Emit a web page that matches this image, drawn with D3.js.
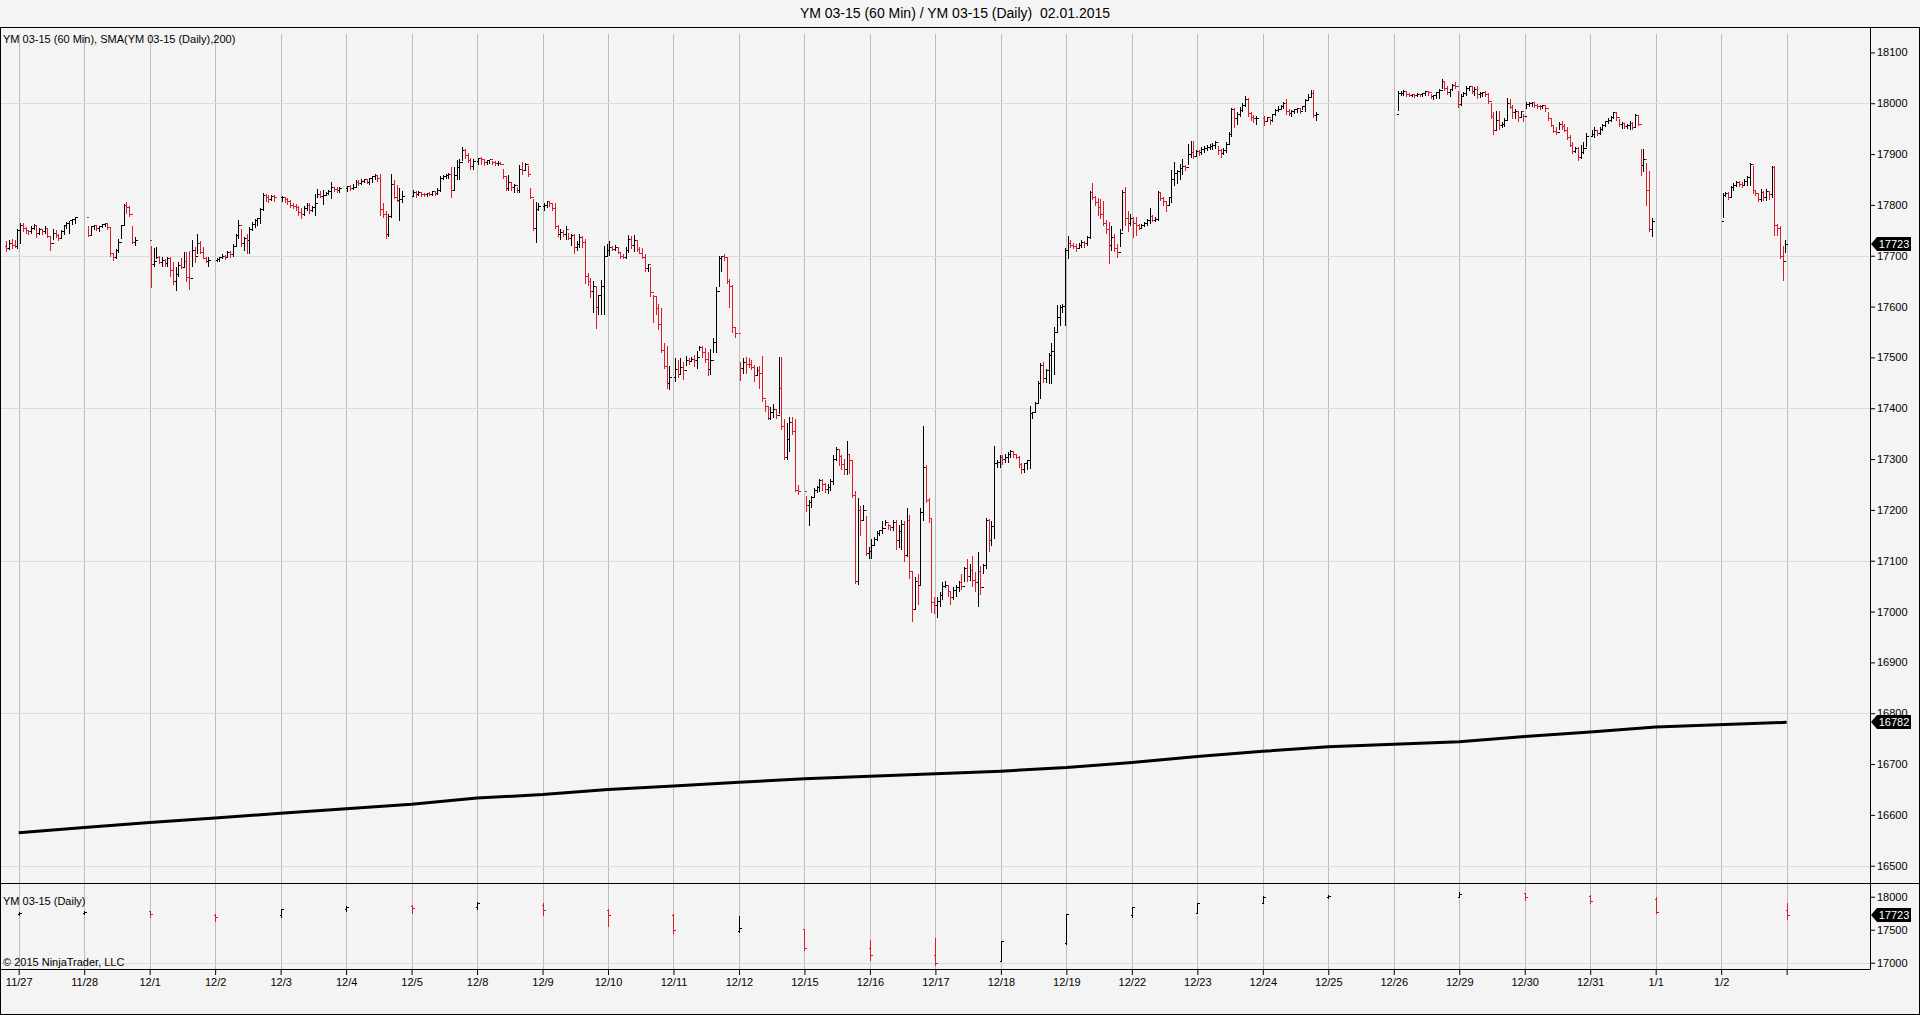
<!DOCTYPE html>
<html>
<head>
<meta charset="utf-8">
<script src="https://cdn.jsdelivr.net/npm/d3@7"></script>
<style>
  html, body { margin: 0; padding: 0; background: #f4f4f4; overflow: hidden; }
  svg { display: block; font-family: Arial, "Liberation Sans", sans-serif; }
  .title { white-space: pre; }
</style>
</head>
<body>
<script>
// day labels on the time axis (slot 27 is the unlabeled last gridline)
var dayLabels = ['11/27','11/28','12/1','12/2','12/3','12/4','12/5','12/8','12/9','12/10','12/11','12/12',
  '12/15','12/16','12/17','12/18','12/19','12/22','12/23','12/24','12/25','12/26','12/29','12/30','12/31','1/1','1/2'];

var priceTicks = [16500,16600,16700,16800,16900,17000,17100,17200,17300,17400,17500,17600,17700,17800,17900,18000,18100];
var gridPrices = [16500,16800,17100,17400,17700,18000];
var dailyTicks = [17000,17500,18000];
var dailyGrid = [17000];

// hourly bars, one array per session: [high, low, close]
var s1126 = [[17730,17710,17715],[17732,17713,17725],[17735,17716,17722],[17733,17718,17720],[17755,17715,17750]];
var s1127 = [[17767,17725,17760],[17767,17748,17755],[17758,17745,17750],[17752,17742,17748],[17760,17745,17755],
  [17765,17752,17760],[17762,17737,17745],[17756,17742,17752],[17754,17742,17748],[17760,17745,17755],[17757,17736,17738],
  [17740,17712,17725],[17755,17733,17745],[17752,17736,17740],[17745,17730,17735],[17752,17735,17748],[17762,17742,17760],
  [17768,17755,17765],[17770,17745,17770],[17774,17762,17772],[17778,17765,17776]];
var s1128 = [[17761,17738,17740],[17760,17740,17758],[17762,17752,17760],[17760,17750,17755],[17760,17748,17758],
  [17764,17756,17762],[17766,17758,17765],[17766,17752,17757],[17757,17700,17705],[17708,17692,17698],[17715,17695,17712],
  [17735,17708,17728],[17762,17735,17760],[17803,17760,17800],[17808,17785,17795],[17800,17778,17782],[17760,17725,17728],
  [17738,17722,17730]];
var s1201 = [[17722,17638,17684],[17718,17680,17690],[17720,17695,17698],[17702,17686,17688],[17700,17680,17692],
  [17695,17680,17686],[17700,17680,17695],[17700,17660,17672],[17690,17645,17650],[17680,17632,17665],[17690,17660,17682],
  [17698,17675,17678],[17710,17680,17690],[17710,17650,17658],[17712,17635,17656],[17732,17680,17712],[17720,17688,17700],
  [17745,17705,17725],[17730,17705,17708],[17720,17695,17696],[17700,17688,17690],[17700,17680,17692]];
var s1202 = [[17698,17690,17694],[17700,17690,17698],[17705,17695,17700],[17704,17694,17698],[17712,17700,17708],
  [17712,17698,17704],[17725,17700,17720],[17745,17720,17740],[17773,17735,17760],[17755,17720,17725],[17738,17712,17735],
  [17745,17705,17730],[17758,17705,17752],[17768,17750,17762],[17775,17757,17770],[17777,17760,17774],[17795,17765,17792],
  [17825,17790,17820],[17823,17808,17815],[17822,17805,17812],[17822,17810,17818],[17822,17808,17815]];
var s1203 = [[17820,17808,17815],[17818,17806,17812],[17816,17802,17808],[17812,17796,17800],[17805,17794,17798],
  [17804,17790,17795],[17800,17780,17786],[17795,17775,17782],[17800,17780,17794],[17805,17790,17800],[17806,17784,17790],
  [17800,17788,17796],[17823,17780,17804],[17833,17815,17822],[17830,17815,17818],[17832,17802,17820],[17828,17820,17824],
  [17832,17822,17828],[17848,17814,17835],[17837,17828,17832],[17838,17826,17829],[17838,17825,17834]];
var s1204 = [[17840,17828,17838],[17842,17830,17834],[17844,17832,17836],[17850,17836,17846],[17850,17840,17844],
  [17852,17842,17848],[17853,17845,17850],[17852,17844,17846],[17855,17842,17852],[17858,17845,17856],[17862,17850,17858],
  [17860,17848,17852],[17863,17780,17792],[17805,17776,17782],[17790,17735,17742],[17784,17738,17778],[17863,17777,17842],
  [17850,17813,17815],[17842,17808,17810],[17836,17771,17812],[17830,17805,17818]];
var s1205 = [[17832,17818,17825],[17830,17815,17822],[17830,17820,17826],[17828,17818,17822],[17826,17818,17821],
  [17826,17818,17823],[17828,17819,17822],[17830,17820,17827],[17828,17820,17824],[17835,17822,17830],[17858,17828,17852],
  [17860,17850,17856],[17862,17852,17858],[17864,17852,17861],[17877,17815,17830],[17877,17830,17858],[17890,17850,17875],
  [17893,17850,17885],[17915,17889,17908],[17912,17892,17898],[17905,17885,17888],[17895,17870,17876],[17892,17870,17886]];
var s1208 = [[17895,17880,17892],[17896,17880,17890],[17890,17878,17884],[17890,17880,17888],[17891,17882,17890],
  [17889,17881,17884],[17888,17879,17882],[17888,17878,17883],[17887,17880,17881],[17872,17852,17856],[17858,17830,17834],
  [17860,17830,17846],[17848,17830,17836],[17843,17825,17840],[17838,17825,17829],[17880,17825,17870],[17887,17860,17868],
  [17885,17870,17880],[17879,17856,17860],[17836,17813,17815],[17813,17751,17755],[17807,17728,17792],[17805,17790,17798]];
var s1209 = [[17805,17790,17800],[17810,17795,17807],[17810,17798,17803],[17806,17790,17794],[17805,17755,17758],
  [17762,17738,17742],[17755,17733,17746],[17752,17738,17742],[17760,17733,17752],[17746,17732,17735],[17745,17722,17740],
  [17745,17705,17718],[17730,17712,17724],[17745,17718,17736],[17740,17718,17728],[17735,17646,17660],[17668,17642,17650],
  [17658,17619,17630],[17652,17590,17640],[17640,17558,17600],[17625,17585,17622],[17655,17585,17640],[17722,17585,17700],
  [17725,17700,17712]];
var s1210 = [[17730,17702,17718],[17722,17712,17714],[17723,17712,17718],[17720,17705,17708],[17708,17695,17700],
  [17705,17695,17698],[17720,17695,17712],[17742,17708,17732],[17740,17715,17722],[17742,17710,17730],[17730,17710,17714],
  [17720,17705,17706],[17718,17695,17698],[17705,17670,17676],[17686,17670,17684],[17680,17620,17628],[17625,17570,17620],
  [17622,17585,17598],[17608,17555,17565],[17600,17510,17515],[17530,17480,17484],[17525,17440,17450],[17485,17437,17462]];
var s1211 = [[17500,17453,17478],[17496,17462,17468],[17500,17467,17482],[17493,17458,17475],[17505,17485,17494],
  [17500,17487,17492],[17503,17492,17496],[17507,17483,17494],[17515,17480,17500],[17525,17515,17520],[17525,17500,17510],
  [17520,17491,17496],[17512,17466,17478],[17518,17468,17494],[17540,17510,17530],[17640,17510,17630],[17701,17640,17695],
  [17702,17669,17700],[17705,17692,17698],[17697,17646,17650],[17656,17600,17640],[17645,17550,17560],[17560,17540,17548]];
var s1212 = [[17492,17456,17480],[17500,17470,17490],[17503,17470,17488],[17500,17482,17487],[17496,17478,17482],
  [17488,17453,17466],[17484,17465,17475],[17485,17440,17470],[17505,17415,17420],[17418,17395,17405],[17405,17378,17380],
  [17405,17378,17392],[17410,17382,17398],[17400,17380,17386],[17502,17390,17440],[17502,17360,17365],[17380,17300,17305],
  [17372,17300,17340],[17385,17315,17372],[17385,17350,17355],[17380,17238,17240],[17250,17232,17238]];
var s1215 = [[17230,17198,17210],[17222,17170,17216],[17230,17205,17225],[17245,17228,17240],[17248,17235,17245],
  [17262,17238,17258],[17262,17240,17250],[17255,17236,17242],[17252,17233,17246],[17262,17240,17256],[17310,17250,17300],
  [17326,17298,17320],[17320,17288,17306],[17310,17280,17290],[17302,17270,17280],[17338,17270,17310],[17310,17272,17298],
  [17300,17225,17230],[17240,17056,17060],[17225,17054,17200],[17210,17150,17180],[17212,17180,17200],[17190,17111,17115],
  [17128,17105,17120]];
var s1216 = [[17145,17105,17130],[17148,17132,17142],[17160,17141,17155],[17162,17150,17160],[17180,17155,17165],
  [17182,17170,17176],[17175,17163,17170],[17172,17160,17166],[17182,17160,17176],[17182,17124,17140],[17172,17127,17158],
  [17182,17124,17172],[17180,17100,17112],[17205,17110,17180],[17192,17066,17080],[17080,16981,17005],[17070,17005,17060],
  [17076,17014,17052],[17205,17055,17195],[17367,17180,17285],[17290,17215,17220],[17225,17176,17185],[17185,17000,17018],
  [17030,16998,17012]];
var s1217 = [[17030,16990,17020],[17040,17010,17032],[17060,17025,17050],[17062,17048,17052],[17055,17030,17040],
  [17042,17015,17028],[17050,17025,17042],[17055,17030,17048],[17062,17040,17058],[17075,17045,17050],[17090,17060,17085],
  [17105,17060,17070],[17095,17062,17082],[17112,17050,17062],[17080,17040,17058],[17120,17010,17080],[17092,17035,17048],
  [17095,17076,17092],[17187,17085,17180],[17185,17120,17140],[17180,17130,17168],[17328,17144,17292],[17300,17285,17295],
  [17310,17285,17304]];
var s1218 = [[17310,17290,17300],[17312,17295,17305],[17316,17295,17310],[17320,17305,17315],[17318,17305,17310],
  [17312,17302,17305],[17308,17285,17290],[17295,17273,17280],[17295,17275,17292],[17300,17280,17298],[17407,17282,17390],
  [17395,17380,17392],[17415,17392,17410],[17455,17410,17450],[17490,17420,17485],[17492,17452,17460],[17480,17452,17476],
  [17510,17450,17505],[17530,17450,17512],[17562,17468,17550],[17606,17550,17580],[17606,17564,17600],[17608,17590,17602],
  [17718,17564,17712]];
var s1219 = [[17741,17695,17725],[17732,17718,17722],[17728,17716,17720],[17725,17710,17715],[17728,17715,17722],
  [17732,17718,17727],[17730,17718,17725],[17740,17722,17736],[17830,17735,17825],[17846,17812,17815],[17820,17800,17805],
  [17815,17780,17795],[17814,17775,17782],[17810,17760,17765],[17772,17745,17752],[17768,17685,17722],[17760,17712,17736],
  [17745,17710,17716],[17725,17698,17708],[17755,17720,17745],[17832,17750,17825],[17837,17760,17775],[17790,17748,17765],
  [17785,17760,17775]];
var s1222 = [[17778,17736,17765],[17778,17740,17760],[17765,17752,17755],[17765,17754,17760],[17768,17758,17764],
  [17775,17760,17770],[17795,17765,17778],[17782,17768,17770],[17778,17768,17772],[17830,17770,17826],[17828,17810,17814],
  [17818,17800,17808],[17810,17788,17800],[17818,17800,17815],[17870,17805,17850],[17886,17840,17862],[17870,17843,17866],
  [17882,17850,17872],[17893,17860,17876],[17880,17868,17874],[17922,17880,17900],[17928,17895,17905],[17928,17893,17896],
  [17910,17898,17906]];
var s1223 = [[17910,17898,17904],[17915,17900,17910],[17918,17905,17912],[17920,17908,17914],[17922,17910,17916],
  [17924,17910,17918],[17928,17912,17924],[17918,17900,17908],[17912,17895,17902],[17914,17900,17908],[17925,17905,17920],
  [17946,17920,17940],[17993,17935,17988],[17993,17954,17970],[17985,17960,17978],[17994,17975,17986],[18002,17985,17996],
  [18016,17995,18008],[18013,17974,17980],[17985,17967,17972],[17978,17964,17970],[17976,17960,17970]];
var s1224 = [[17976,17958,17966],[17975,17965,17972],[17970,17960,17968],[17980,17965,17978],[17990,17976,17986],
  [17996,17985,17988],[17998,17988,17995],[18004,17990,18000],[18010,17978,17984],[17990,17976,17980],[17988,17975,17984],
  [17990,17980,17988],[17992,17982,17990],[17990,17980,17984],[17996,17988,17994],[18010,17985,18006],[18020,18006,18012],
  [18028,18012,18020],[18028,17972,17976],[17985,17968,17978]];
var s1226 = [[18026,17987,18020],[18026,18016,18021],[18028,18016,18024],[18026,18015,18019],[18022,18015,18017],
  [18020,18014,18018],[18020,18012,18016],[18022,18014,18019],[18020,18014,18018],[18022,18014,18020],[18027,18017,18024],
  [18026,18016,18022],[18020,18010,18014],[18018,18008,18016],[18024,18010,18022],[18030,18010,18027],[18049,18030,18044],
  [18046,18026,18030],[18035,18018,18022],[18030,18015,18028],[18040,18026,18036],[18043,18030,18034],[18026,17993,17998]];
var s1229 = [[18020,17997,18015],[18024,18014,18020],[18036,18016,18030],[18036,18026,18033],[18036,18020,18025],
  [18033,18016,18028],[18036,18010,18018],[18025,18013,18020],[18024,18015,18022],[18026,18015,18018],[18022,18000,18004],
  [18003,17970,17975],[17984,17940,17948],[17987,17950,17968],[17987,17950,17958],[17966,17954,17960],[17972,17955,17968],
  [18013,17967,18000],[18010,17990,17993],[17998,17970,17982],[17990,17970,17984],[17985,17965,17972],[17986,17975,17984],
  [17980,17965,17974]];
var s1230 = [[18005,17990,17998],[18004,17994,18000],[18005,17995,18002],[18002,17992,17996],[18000,17990,17995],
  [17998,17988,17994],[17999,17990,17996],[17997,17985,17990],[17985,17967,17970],[17970,17955,17958],[17960,17943,17946],
  [17955,17940,17944],[17966,17950,17960],[17968,17950,17955],[17962,17945,17948],[17955,17930,17934],[17940,17915,17918],
  [17925,17902,17906],[17916,17905,17912],[17915,17889,17894],[17920,17892,17904],[17925,17902,17912],[17944,17915,17935]];
var s1231 = [[17950,17935,17940],[17955,17934,17948],[17950,17938,17942],[17955,17940,17950],[17962,17948,17958],
  [17968,17955,17965],[17972,17962,17968],[17976,17966,17972],[17984,17970,17982],[17983,17968,17972],[17970,17955,17960],
  [17965,17952,17962],[17963,17952,17955],[17962,17952,17958],[17968,17950,17962],[17966,17950,17954],[17980,17954,17976],
  [17977,17958,17960],[17912,17859,17878],[17912,17866,17890],[17885,17800,17830],[17869,17748,17752],[17777,17738,17768]];
var s0102 = [[17826,17777,17820],[17828,17818,17824],[17828,17812,17816],[17840,17818,17836],[17846,17830,17840],
  [17849,17838,17845],[17849,17838,17842],[17848,17836,17840],[17852,17840,17848],[17859,17840,17855],[17885,17840,17880],
  [17878,17823,17830],[17832,17820,17824],[17826,17807,17812],[17833,17807,17826],[17830,17809,17816],[17833,17810,17828],
  [17830,17812,17822],[17879,17815,17875],[17879,17741,17760],[17764,17741,17755],[17761,17695,17700],[17722,17653,17690],
  [17732,17708,17723]];

var sessionBars = [s1126, s1127, s1128, s1201, s1202, s1203, s1204, s1205, s1208, s1209, s1210, s1211, s1212,
  s1215, s1216, s1217, s1218, s1219, s1222, s1223, s1224, s1226, s1229, s1230, s1231, s0102];
var sessionSlot = [-1, 0, 1, 2, 3, 4, 5, 6, 7, 8, 9, 10, 11, 12, 13, 14, 15, 16, 17, 18, 19, 21, 22, 23, 24, 26];
var sessionStartHour = [19, 0, 1, 0, 0, 0, 0, 0, 0, 0, 0, 0, 0, 0, 0, 0, 0, 0, 0, 0, 0, 1, 0, 0, 0, 0];
var firstOpen = 17720;

// daily series (bottom panel) and the 200-day SMA
var dailySlot  = [0,1,2,3,4,5,6,7,8,9,10,11,12,13,14,15,16,17,18,19,20,22,23,24,25,27];
var dailyOpen  = [17735,17750,17780,17720,17720,17810,17855,17840,17880,17800,17720,17475,17510,17230,17120,17030,17300,17720,17760,17905,17990,18000,18050,18010,17960,17800];
var dailyHigh  = [17790,17800,17795,17760,17830,17870,17890,17940,17915,17830,17760,17724,17523,17357,17387,17347,17750,17860,17925,18025,18045,18080,18065,18040,18005,17915];
var dailyLow   = [17725,17745,17700,17635,17700,17780,17750,17820,17730,17560,17450,17472,17196,17045,16970,17020,17282,17690,17750,17900,17980,17995,17945,17905,17750,17660];
var dailyClose = [17760,17775,17740,17700,17820,17840,17830,17900,17800,17720,17490,17523,17230,17120,17000,17330,17740,17850,17910,17990,18010,18040,17990,17940,17770,17723];
var smaValues  = [16565,16575,16585,16594,16603,16612,16621,16633,16640,16650,16657,16664,16671,16676,16681,16686,16693,16703,16715,16725,16734,16744,16754,16763,16773,16782];

var width = 1920, height = 1015;
var plotRight = 1870, mainTop = 27, mainBottom = 883, axisY = 969;
var upColor = "#000000", downColor = "#d81e2c";

var x = d3.scaleLinear().domain([-0.2856, 28.273]).range([0, plotRight]);
var yMain = d3.scaleLinear().domain([16466, 18150]).range([mainBottom, mainTop]);
var yDaily = d3.scaleLinear().domain([16905, 18208]).range([axisY, mainBottom]);

var svg = d3.select("body").append("svg")
  .attr("width", width)
  .attr("height", height);

svg.append("rect").attr("width", width).attr("height", height).attr("fill", "#f4f4f4");

// title
svg.append("text")
  .attr("class", "title")
  .attr("x", 955).attr("y", 18)
  .attr("text-anchor", "middle")
  .attr("font-size", "14px")
  .attr("fill", "#000")
  .text("YM 03-15 (60 Min) / YM 03-15 (Daily)  02.01.2015");

function px(v) { return Math.round(v) + 0.5; }

// grid
var slots = d3.range(0, 28);
svg.append("g").selectAll("line").data(slots).enter().append("line")
  .attr("x1", function (d) { return px(x(d)); })
  .attr("x2", function (d) { return px(x(d)); })
  .attr("y1", 34).attr("y2", axisY)
  .attr("stroke", "#bdbdbd").attr("stroke-width", 1);

svg.append("g").selectAll("line").data(gridPrices).enter().append("line")
  .attr("x1", 0).attr("x2", plotRight)
  .attr("y1", function (d) { return px(yMain(d)); })
  .attr("y2", function (d) { return px(yMain(d)); })
  .attr("stroke", "#dcdcdc");

svg.append("g").selectAll("line").data(dailyGrid).enter().append("line")
  .attr("x1", 0).attr("x2", plotRight)
  .attr("y1", function (d) { return px(yDaily(d)); })
  .attr("y2", function (d) { return px(yDaily(d)); })
  .attr("stroke", "#dcdcdc");

// flatten hourly sessions into OHLC bars
var hourly = [];
var prevClose = firstOpen;
sessionBars.forEach(function (bars, k) {
  bars.forEach(function (b, i) {
    hourly.push({
      t: sessionSlot[k] + (sessionStartHour[k] + i + 0.5) / 24,
      o: prevClose, h: b[0], l: b[1], c: b[2]
    });
    prevClose = b[2];
  });
});

function barPath(d, y) {
  var cx = px(x(d.t));
  return "M" + cx + "," + px(y(d.h)) + "V" + px(y(d.l)) +
    "M" + (cx - 2) + "," + px(y(d.o)) + "H" + cx +
    "M" + cx + "," + px(y(d.c)) + "H" + (cx + 2);
}

svg.append("g").attr("shape-rendering", "crispEdges")
  .selectAll("path").data(hourly).enter().append("path")
  .attr("d", function (d) { return barPath(d, yMain); })
  .attr("fill", "none")
  .attr("stroke", function (d) { return d.c < d.o ? downColor : upColor; })
  .attr("stroke-width", 1);

// daily bars
var daily = dailySlot.map(function (s, i) {
  return { t: s, o: dailyOpen[i], h: dailyHigh[i], l: dailyLow[i], c: dailyClose[i], sma: smaValues[i] };
});

svg.append("g").attr("shape-rendering", "crispEdges")
  .selectAll("path").data(daily).enter().append("path")
  .attr("d", function (d) { return barPath(d, yDaily); })
  .attr("fill", "none")
  .attr("stroke", function (d) { return d.c < d.o ? downColor : upColor; })
  .attr("stroke-width", 1);

// SMA line
var smaLine = d3.line()
  .x(function (d) { return x(d.t); })
  .y(function (d) { return yMain(d.sma); });

svg.append("path")
  .datum(daily)
  .attr("d", smaLine)
  .attr("fill", "none")
  .attr("stroke", "#000")
  .attr("stroke-width", 3)
  .attr("stroke-linejoin", "round");

// axes
function styleAxis(g) {
  g.attr("font-family", "Arial, 'Liberation Sans', sans-serif").attr("font-size", "11px");
  g.selectAll("text").attr("fill", "#000");
  g.selectAll("line").attr("stroke", "#000");
  g.select(".domain").attr("stroke", "#000");
}

svg.append("g")
  .attr("transform", "translate(" + plotRight + ",0)")
  .call(d3.axisRight(yMain).tickValues(priceTicks).tickSize(5).tickSizeOuter(0).tickPadding(2).tickFormat(d3.format("d")))
  .call(styleAxis);

svg.append("g")
  .attr("transform", "translate(" + plotRight + ",0)")
  .call(d3.axisRight(yDaily).tickValues(dailyTicks).tickSize(5).tickSizeOuter(0).tickPadding(2).tickFormat(d3.format("d")))
  .call(styleAxis);

svg.append("g")
  .attr("transform", "translate(0," + axisY + ")")
  .call(d3.axisBottom(x).tickValues(slots).tickSize(6).tickSizeOuter(0).tickPadding(3)
    .tickFormat(function (d) { return dayLabels[d] || ""; }))
  .call(styleAxis);

// frame
svg.append("line").attr("x1", 0).attr("x2", width).attr("y1", mainTop + 0.5).attr("y2", mainTop + 0.5).attr("stroke", "#000");
svg.append("line").attr("x1", 0).attr("x2", width).attr("y1", mainBottom + 0.5).attr("y2", mainBottom + 0.5).attr("stroke", "#000");
svg.append("line").attr("x1", 0).attr("x2", width).attr("y1", height - 0.5).attr("y2", height - 0.5).attr("stroke", "#000");
svg.append("line").attr("x1", 0.5).attr("x2", 0.5).attr("y1", mainTop).attr("y2", height).attr("stroke", "#000");
svg.append("line").attr("x1", width - 0.5).attr("x2", width - 0.5).attr("y1", mainTop).attr("y2", height).attr("stroke", "#000");

// panel labels
svg.append("text").attr("x", 3).attr("y", 43).attr("font-size", "11px").attr("fill", "#000")
  .text("YM 03-15 (60 Min), SMA(YM 03-15 (Daily),200)");
svg.append("text").attr("x", 3).attr("y", 905).attr("font-size", "11px").attr("fill", "#000")
  .text("YM 03-15 (Daily)");
svg.append("text").attr("x", 3).attr("y", 966).attr("font-size", "11px").attr("fill", "#000")
  .text("\u00a9 2015 NinjaTrader, LLC");

// last value markers
function marker(yPix, value) {
  var y0 = Math.round(yPix);
  var g = svg.append("g");
  g.append("path")
    .attr("d", "M" + (plotRight + 1) + "," + y0 + "L" + (plotRight + 7) + "," + (y0 - 7) +
      "H" + (plotRight + 41) + "V" + (y0 + 7) + "H" + (plotRight + 7) + "Z")
    .attr("fill", "#000");
  g.append("text")
    .attr("x", plotRight + 24).attr("y", y0 + 4)
    .attr("text-anchor", "middle")
    .attr("font-size", "11px")
    .attr("fill", "#fff")
    .text(value);
}
var lastClose = hourly[hourly.length - 1].c;
var lastSma = smaValues[smaValues.length - 1];
marker(yMain(lastClose), lastClose);
marker(yMain(lastSma), lastSma);
marker(yDaily(lastClose), lastClose);
</script>
</body>
</html>
